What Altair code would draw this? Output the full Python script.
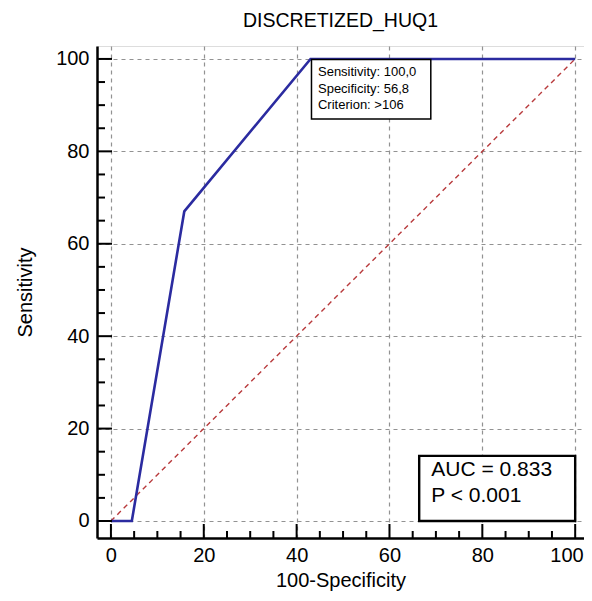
import altair as alt
import pandas as pd

# ROC curve points (100-Specificity, Sensitivity)
roc_x = [0, 4.5, 15.8, 43.0, 100]
roc_y = [0, 0, 67.0, 100, 100]
diag_x = [0, 100]
diag_y = [0, 100]
major_ticks = [0, 20, 40, 60, 80, 100]
minor_ticks = [5, 10, 15, 25, 30, 35, 45, 50, 55, 65, 70, 75, 85, 90, 95]

info_lines = ["Sensitivity: 100,0", "Specificity: 56,8", "Criterion: >106"]
info_y = [97.2, 93.5, 90.0]
auc_lines = ["AUC = 0.833", "P < 0.001"]
auc_y = [11.0, 5.5]

W, H = 487, 492
XDOM = [-3.0, 101.9]
YDOM = [-3.68, 102.8]
FONT = "Liberation Sans"

xs = alt.Scale(domain=XDOM, nice=False, zero=False)
ys = alt.Scale(domain=YDOM, nice=False, zero=False)

roc_df = pd.DataFrame({"x": roc_x, "y": roc_y})
diag_df = pd.DataFrame({"x": diag_x, "y": diag_y})

xaxis = alt.Axis(values=major_ticks, title="100-Specificity", ticks=False, labelPadding=7,
                 titlePadding=5, grid=True, gridDash=[4, 4], gridColor="#929292", gridWidth=1.2,
                 domainColor="black", domainWidth=2.5, labelFontSize=20, titleFontSize=20,
                 labelFont=FONT, titleFont=FONT, titleFontWeight="normal", labelColor="black",
                 titleColor="black", labelFlush=12, labelFlushOffset=8)
yaxis = alt.Axis(values=major_ticks, title="Sensitivity", ticks=False, labelPadding=8,
                 titlePadding=20, grid=True, gridDash=[4, 4], gridColor="#929292", gridWidth=1.2,
                 domainColor="black", domainWidth=2.5, labelFontSize=20, titleFontSize=20,
                 labelFont=FONT, titleFont=FONT, titleFontWeight="normal", labelColor="black",
                 titleColor="black", labelFlush=False)

diag = alt.Chart(diag_df).mark_line(color="#b83a3c", strokeDash=[5, 4], strokeWidth=1.4).encode(
    x=alt.X("x:Q", scale=xs, axis=xaxis), y=alt.Y("y:Q", scale=ys, axis=yaxis))

roc = alt.Chart(roc_df).mark_line(color="#2b2ba0", strokeWidth=2.6).encode(
    x=alt.X("x:Q", scale=xs), y=alt.Y("y:Q", scale=ys))

maj_df = pd.DataFrame({"v": major_ticks})
min_df = pd.DataFrame({"v": minor_ticks})

xmaj = alt.Chart(maj_df).mark_rule(color="black", strokeWidth=2).encode(
    x=alt.X("v:Q", scale=xs), y=alt.value(H), y2=alt.value(H - 14))
xmin = alt.Chart(min_df).mark_rule(color="black", strokeWidth=2).encode(
    x=alt.X("v:Q", scale=xs), y=alt.value(H), y2=alt.value(H - 7))
ymaj = alt.Chart(maj_df).mark_rule(color="black", strokeWidth=2).encode(
    y=alt.Y("v:Q", scale=ys), x=alt.value(0), x2=alt.value(15))
ymin = alt.Chart(min_df).mark_rule(color="black", strokeWidth=2).encode(
    y=alt.Y("v:Q", scale=ys), x=alt.value(0), x2=alt.value(8))

box1_df = pd.DataFrame({"x": [43.2], "x2": [68.9], "y": [99.9], "y2": [87.0]})
box1 = alt.Chart(box1_df).mark_rect(fill="white", stroke="black", strokeWidth=1.5).encode(
    x=alt.X("x:Q", scale=xs), x2="x2", y=alt.Y("y:Q", scale=ys), y2="y2")
info_df = pd.DataFrame({"t": info_lines, "y": info_y, "x": [44.6] * 3})
info = alt.Chart(info_df).mark_text(align="left", baseline="middle", fontSize=13, font=FONT,
                                    color="black").encode(
    x=alt.X("x:Q", scale=xs), y=alt.Y("y:Q", scale=ys), text="t:N")

box2_df = pd.DataFrame({"x": [66.4], "x2": [100], "y": [14.1], "y2": [0]})
box2 = alt.Chart(box2_df).mark_rect(fill="white", stroke="black", strokeWidth=2.4).encode(
    x=alt.X("x:Q", scale=xs), x2="x2", y=alt.Y("y:Q", scale=ys), y2="y2")
auc_df = pd.DataFrame({"t": auc_lines, "y": auc_y, "x": [69.0] * 2})
auc = alt.Chart(auc_df).mark_text(align="left", baseline="middle", fontSize=21, font=FONT,
                                  color="black").encode(
    x=alt.X("x:Q", scale=xs), y=alt.Y("y:Q", scale=ys), text="t:N")

chart = alt.layer(diag, roc, xmaj, xmin, ymaj, ymin, box1, info, box2, auc).properties(
    width=W, height=H,
    title=alt.Title("DISCRETIZED_HUQ1", font=FONT, fontSize=19.5, fontWeight="normal",
                    color="black", offset=15),
    autosize=alt.AutoSizeParams(type="none"),
    padding={"left": 89, "top": 38, "right": 0, "bottom": 54},
).configure_view(stroke=None).configure(background="white")

chart.save("out.html", embed_options={"renderer": "svg", "actions": False})
